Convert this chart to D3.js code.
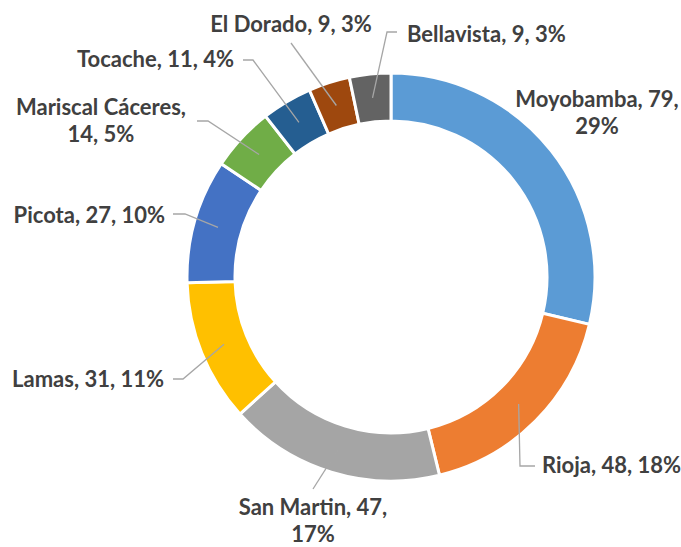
<!DOCTYPE html>
<html>
<head>
<meta charset="utf-8">
<script src="https://cdn.jsdelivr.net/npm/d3@7"></script>
<style>
  html, body { margin: 0; padding: 0; background: #fff; }
  svg { display: block; }
  .lbl { font-family: Lato, "Open Sans", sans-serif; font-weight: 700; font-size: 22px; fill: #404040; }
</style>
</head>
<body>
<svg id="chart" width="681" height="547"></svg>
<script>
// Provincias (clockwise from 12 o'clock)
const categories = ['Moyobamba', 'Rioja', 'San Martin', 'Lamas', 'Picota',
  'Mariscal Cáceres', 'Tocache', 'El Dorado', 'Bellavista'];
const values = [79, 48, 47, 31, 27, 14, 11, 9, 9];
const percentLabels = ['29%', '18%', '17%', '11%', '10%', '5%', '4%', '3%', '3%'];
const colors = ['#5B9BD5', '#ED7D31', '#A5A5A5', '#FFC000', '#4472C4',
  '#70AD47', '#255E91', '#9E480E', '#636363'];

const W = 681, H = 547;
const cx = 391, cy = 277;
const R_OUT = 204, R_IN = 156;

// label placement (layout only): split = where the text breaks into two lines
const labelLayout = {
  'Moyobamba':        { x: 597, y: 107, anchor: 'middle', split: 'value', leader: null },
  'Rioja':            { x: 542, y: 473, anchor: 'start',  split: null, leader: [[520, 466], [535, 466]] },
  'San Martin':       { x: 313, y: 515, anchor: 'middle', split: 'value', leader: [[313, 489]] },
  'Lamas':            { x: 164, y: 387, anchor: 'end',    split: null, leader: [[183, 379], [173, 379]] },
  'Picota':           { x: 165, y: 223, anchor: 'end',    split: null, leader: [[185, 214], [173, 214]] },
  'Mariscal Cáceres': { x: 101, y: 115, anchor: 'middle', split: 'name', leader: [[208, 121], [197, 121]] },
  'Tocache':          { x: 234, y: 67,  anchor: 'end',    split: null, leader: [[253, 60], [243, 60]] },
  'El Dorado':        { x: 291, y: 32,  anchor: 'middle', split: null, leader: [[291, 43]] },
  'Bellavista':       { x: 407, y: 42,  anchor: 'start',  split: null, leader: [[387, 32], [397, 32]] }
};
const LINE_H = 27;

const svg = d3.select('#chart');
const g = svg.append('g').attr('transform', `translate(${cx},${cy})`);

const data = categories.map((name, i) => ({ name, value: values[i], pct: percentLabels[i], color: colors[i] }));

const pie = d3.pie().value(d => d.value).sort(null);
const arc = d3.arc().innerRadius(R_IN).outerRadius(R_OUT);
const arcs = pie(data);

g.selectAll('path.slice')
  .data(arcs)
  .join('path')
  .attr('class', 'slice')
  .attr('d', arc)
  .attr('fill', d => d.data.color)
  .attr('stroke', '#fff')
  .attr('stroke-width', 3)
  .attr('stroke-linejoin', 'miter');

// leader lines
const line = d3.line();
svg.append('g').selectAll('path.leader')
  .data(arcs.filter(d => labelLayout[d.data.name].leader))
  .join('path')
  .attr('class', 'leader')
  .attr('fill', 'none')
  .attr('stroke', '#A6A6A6')
  .attr('stroke-width', 1.3)
  .attr('d', d => {
    const c = arc.centroid(d);
    const pts = [[cx + c[0], cy + c[1]], ...labelLayout[d.data.name].leader];
    return line(pts);
  });

// data labels
const labels = svg.append('g').selectAll('text.lbl')
  .data(arcs)
  .join('text')
  .attr('class', 'lbl')
  .attr('text-anchor', d => labelLayout[d.data.name].anchor)
  .attr('x', d => labelLayout[d.data.name].x)
  .attr('y', d => labelLayout[d.data.name].y);

labels.each(function(d) {
  const L = labelLayout[d.data.name];
  const t = d3.select(this);
  let lines;
  if (L.split === 'value') lines = [`${d.data.name}, ${d.data.value},`, d.data.pct];
  else if (L.split === 'name') lines = [`${d.data.name},`, `${d.data.value}, ${d.data.pct}`];
  else lines = [`${d.data.name}, ${d.data.value}, ${d.data.pct}`];
  lines.forEach((s, i) => {
    t.append('tspan').attr('x', L.x).attr('dy', i === 0 ? 0 : LINE_H).text(s);
  });
});
</script>
</body>
</html>
